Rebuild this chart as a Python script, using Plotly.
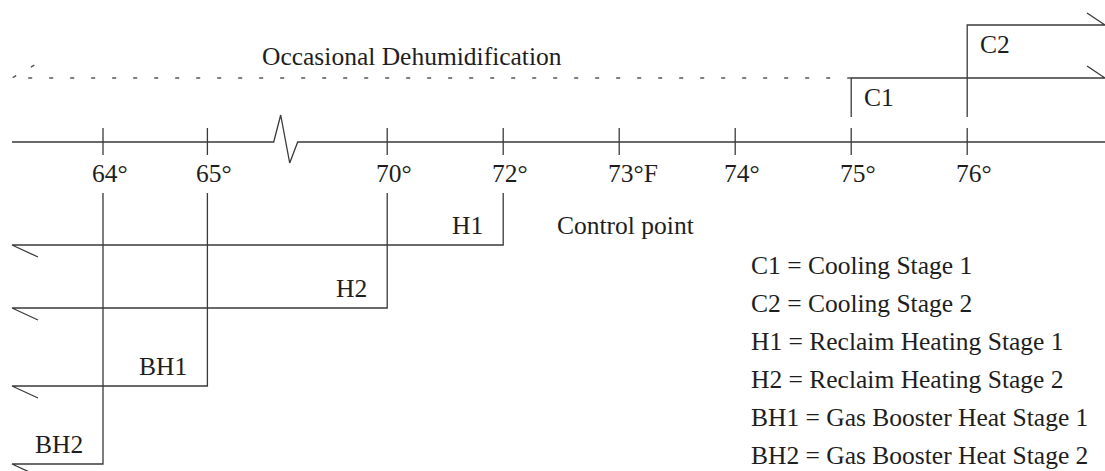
import plotly.graph_objects as go

# scale data
temps = [64, 65, 70, 72, 73, 74, 75, 76]
tick_labels = ["64°", "65°", "70°", "72°", "73°F", "74°", "75°", "76°"]

# stages: name, temperature where the stage comes on
cool_stages = ["C1", "C2"]
cool_temps = [75, 76]
heat_stages = ["H1", "H2", "BH1", "BH2"]
heat_temps = [72, 70, 65, 64]

legend_lines = [
    "C1 = Cooling Stage 1",
    "C2 = Cooling Stage 2",
    "H1 = Reclaim Heating Stage 1",
    "H2 = Reclaim Heating Stage 2",
    "BH1 = Gas Booster Heat Stage 1",
    "BH2 = Gas Booster Heat Stage 2",
]

# ---- layout of the schematic (not data) ----
W, H = 1105, 471
UNIT = 116.0          # px per slot on the schematic axis
ORIGIN = 103.0        # px where the first tick sits
slots = [0, 0.9, 2.45, 3.45, 4.45, 5.45, 6.45, 7.45]   # schematic slot of each tick
slot = dict(zip(temps, slots))


def sx(px):
    return (px - ORIGIN) / UNIT


X0, X1 = sx(0), sx(W)
LEFT, RIGHT = sx(12), X1
AXIS_Y = 142
cool_rows = [78, 25]
heat_rows = [245, 308, 386, 464]
BREAK = 1.575

LINE = dict(color="#3a3a3a", width=1.3)
FONT = dict(family="Liberation Serif, Times New Roman, serif", size=25.5, color="#1e1e1e")

fig = go.Figure()


def add_line(xs, ys, line=LINE):
    fig.add_trace(go.Scatter(x=xs, y=ys, mode="lines", line=line,
                             hoverinfo="skip", showlegend=False))


# main axis with break mark
add_line([LEFT, BREAK - sx(ORIGIN + 12), BREAK - sx(ORIGIN + 5), BREAK + sx(ORIGIN + 4),
          BREAK + sx(ORIGIN + 12), RIGHT],
         [AXIS_Y, AXIS_Y, 115, 163, AXIS_Y, AXIS_Y])

# tick marks and labels
for t, lab in zip(temps, tick_labels):
    add_line([slot[t], slot[t]], [128, 155])
    fig.add_annotation(x=slot[t], y=173, text=lab, showarrow=False,
                       xanchor="left", yanchor="middle", xshift=-13, font=FONT)

# heating stages
for name, t, row in zip(heat_stages, heat_temps, heat_rows):
    add_line([slot[t], slot[t], LEFT, LEFT + sx(ORIGIN + 26)],
             [193, row, row, row + 12])
    fig.add_annotation(x=slot[t], y=row - 20, text=name, showarrow=False,
                       xanchor="right", yanchor="middle", xshift=-18, font=FONT)

# cooling stages
for name, t, row in zip(cool_stages, cool_temps, cool_rows):
    add_line([slot[t], slot[t], RIGHT, RIGHT - sx(ORIGIN + 18)],
             [117, row, row, row - 12])
    fig.add_annotation(x=slot[t], y=row + 19, text=name, showarrow=False,
                       xanchor="left", yanchor="middle", xshift=11, font=FONT)

# occasional dehumidification (dashed)
DASH = dict(color="#555555", width=1.4, dash="4px,17px")
add_line([slot[75], LEFT, LEFT + sx(ORIGIN + 26)], [cool_rows[0], cool_rows[0], 63], DASH)
fig.add_annotation(x=sx(260), y=56, text="Occasional Dehumidification", showarrow=False,
                   xanchor="left", yanchor="middle", font=FONT)

fig.add_annotation(x=sx(555), y=225, text="Control point", showarrow=False,
                   xanchor="left", yanchor="middle", font=FONT)

# legend text
for i, txt in enumerate(legend_lines):
    fig.add_annotation(x=sx(749), y=265 + i * 38, text=txt, showarrow=False,
                       xanchor="left", yanchor="middle", font=FONT)

fig.update_xaxes(range=[X0, X1], visible=False, fixedrange=True)
fig.update_yaxes(range=[H, 0], visible=False, fixedrange=True)
fig.update_layout(width=W, height=H, margin=dict(l=0, r=0, t=0, b=0),
                  paper_bgcolor="white", plot_bgcolor="white")

fig.write_html("out.html", config={"displayModeBar": False},
               post_script="document.body.style.margin='0';document.body.style.overflow='hidden';")
